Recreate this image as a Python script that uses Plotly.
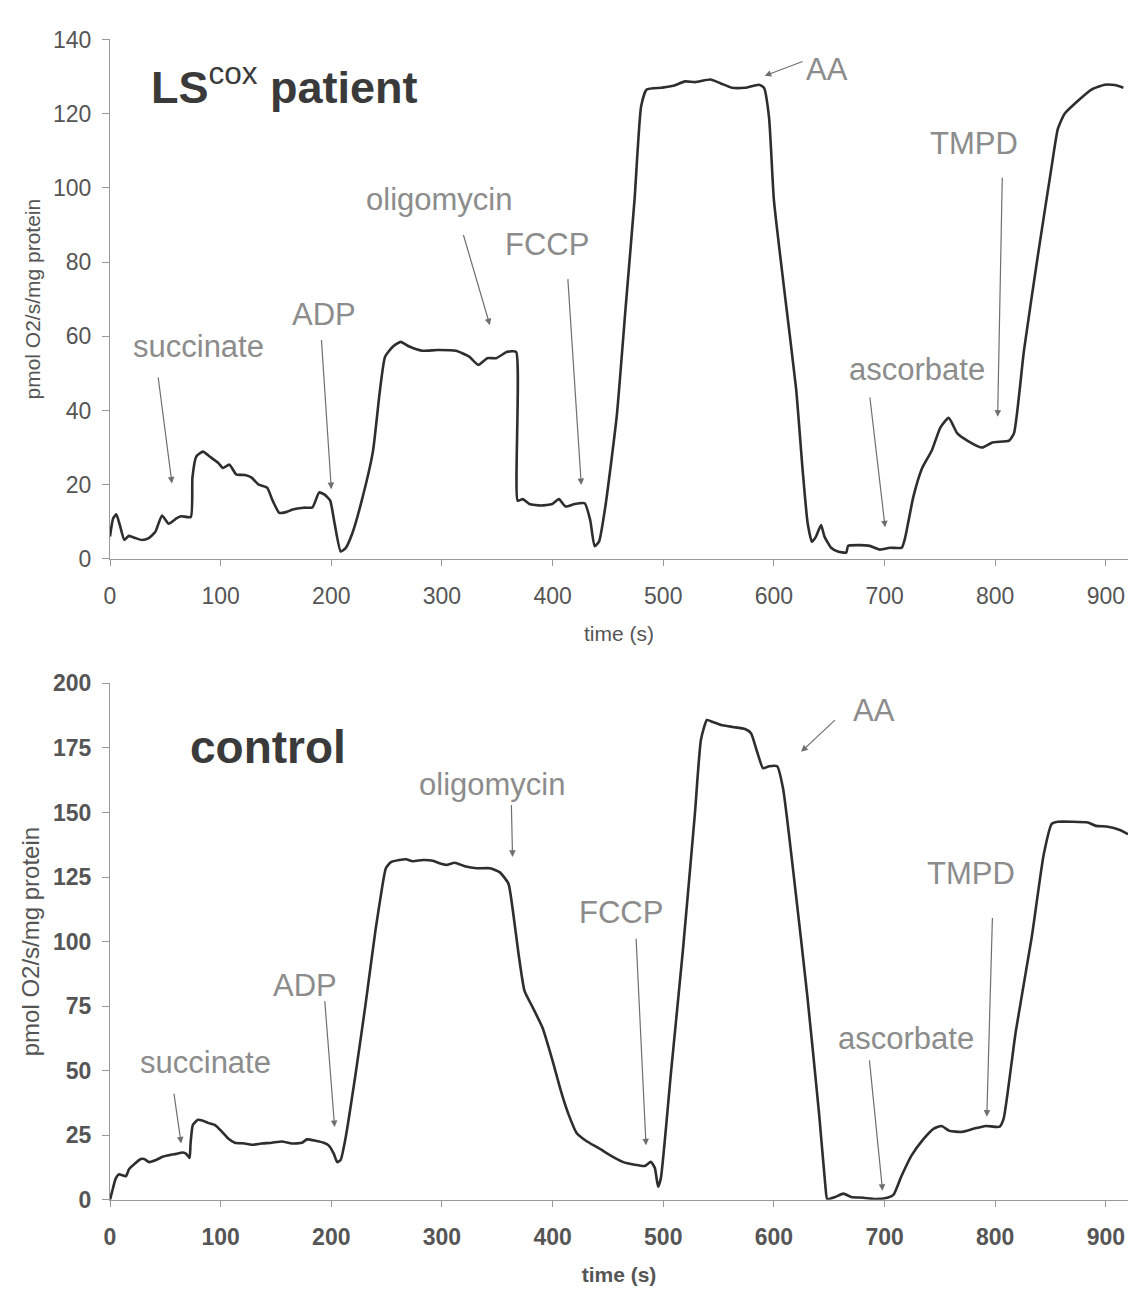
import plotly.graph_objects as go

# ---------------- data ----------------
ls_time = [0, 2.8, 5.7, 8.9, 13, 17, 23, 29, 35, 41, 47, 53, 60, 64, 73, 74.5, 78, 84, 90, 98,
           102, 108, 114, 122, 128, 134, 142, 147, 153, 159, 165, 175, 183, 189, 194, 199, 203,
           208.5, 213, 219, 227.5, 237.6, 243.7, 248.6, 256, 262.8, 270, 282, 296, 312.6, 324.7,
           332.8, 341, 349, 359, 367, 368.4, 373, 379, 389.5, 399.6, 405.7, 411.7, 420, 429, 434,
           438, 442, 448, 458, 466, 474, 480, 485, 498.5, 509, 519.7, 528.8, 542.5, 551.6, 562,
           574, 586.5, 591, 595.6, 600, 609, 620, 626, 630.5, 634.4, 638, 642.6, 645.7, 651.7,
           657.8, 665.4, 667, 677.5, 686.6, 695.7, 704.9, 715.5, 718.5, 726, 733.7, 742.8, 750.4,
           758, 765.6, 774.7, 788.3, 797.4, 812.6, 817, 826, 838.4, 850.5, 856.6, 862.7, 874.8,
           887, 899, 908, 915.8]
ls_rate = [6, 10.9, 12, 9.1, 5.1, 6.2, 5.6, 5.1, 5.6, 7.3, 11.7, 9.5, 10.9, 11.5, 11.3, 21.9, 27.6,
           28.9, 27.6, 25.8, 24.5, 25.4, 22.8, 22.6, 21.9, 20.1, 19.2, 15.7, 12.4, 12.6, 13.3, 13.8,
           13.9, 17.9, 17.3, 15.7, 9.5, 2, 2.9, 6.9, 15.7, 28.9, 44.8, 54.5, 57.3, 58.5, 57.3, 56.1,
           56.3, 56.1, 54.5, 52.3, 54.1, 54.1, 55.8, 55.8, 15.7, 16.1, 14.8, 14.4, 14.8, 16.1, 14.1,
           14.8, 15, 10.4, 3.4, 4.7, 14.8, 38.6, 67.8, 96.6, 122, 126.5, 127, 127.5, 128.7, 128.5,
           129.2, 128.2, 127, 127, 127.8, 127, 119, 96.7, 73.4, 46, 23.8, 9.6, 4.6, 6, 9.1, 6, 3,
           2, 1.7, 3.5, 3.7, 3.5, 2.5, 3, 3, 5.6, 16.7, 24.3, 29.3, 35.4, 38, 33.9, 31.9, 30, 31.4,
           31.9, 33.9, 56.2, 81.5, 104.8, 115.9, 120, 123.5, 126.5, 127.8, 127.7, 127]

ctrl_time = [0, 2.1, 5.2, 8.2, 11.2, 14.3, 17.3, 21.8, 27.9, 30.9, 35.5, 41.6, 47.6, 53.7, 59.8,
             65.8, 68.9, 71.9, 72.8, 74.9, 79.5, 84, 88.6, 94.6, 100.7, 106.8, 112.8, 121.9, 128,
             137, 146.2, 155.3, 164.4, 173.5, 178, 185.6, 193.2, 197.8, 202.3, 205.3, 208.4, 213,
             222, 231, 240, 246.3, 249.3, 253.9, 261.5, 267.5, 273.6, 282.7, 291.8, 297.8, 303.9,
             311.5, 320.6, 331.2, 343.3, 352.4, 360.1, 363.8, 369.2, 374.6, 381.9, 390.9, 400,
             407.2, 414.5, 421.7, 430.8, 441.7, 452.5, 463.4, 474.3, 483.3, 488.8, 492.4, 495.3,
             497.8, 506.9, 517.8, 528.6, 534.1, 539.5, 544.9, 552.2, 563, 573.9, 579.3, 584.8,
             590.2, 595.6, 602.9, 608.3, 619.2, 630.1, 640.9, 646.4, 648.2, 655.4, 662.7, 669.9,
             680.8, 691.7, 702.5, 708, 715.2, 724.3, 735.1, 744.2, 751.4, 758.7, 769.6, 780.4,
             791.3, 804, 807.6, 818.5, 833, 843.8, 851.1, 856.5, 869.2, 883.7, 891, 901.8, 912.7,
             920]
ctrl_rate = [0, 3.5, 8.3, 9.9, 9.5, 9.1, 11.9, 13.8, 15.8, 15.8, 14.6, 15.4, 16.7, 17.3, 17.8,
             18.3, 17.8, 16.2, 21.8, 29, 31, 30.6, 29.8, 29, 26.6, 23.7, 22.1, 21.8, 21.3, 21.8,
             22.1, 22.6, 21.8, 22.1, 23.4, 22.9, 22.1, 21, 17.8, 14.6, 15.4, 24.2, 48.9, 75.9,
             104.6, 122, 128.4, 130.8, 131.6, 131.9, 131.1, 131.6, 131.3, 130.3, 129.7, 130.5,
             129.2, 128.4, 128.4, 126.8, 122.4, 112.9, 95.3, 80.9, 74.6, 66.6, 53.8, 42.6, 33,
             25.9, 22.7, 20, 17.1, 14.7, 13.6, 13.1, 14.7, 12.3, 5.1, 8.3, 49, 96.9, 149.6, 178.3,
             185.8, 185, 183.9, 183.1, 182.3, 180.7, 173.5, 167.1, 167.9, 167.9, 159.2, 120.8,
             79.3, 33, 5.9, 0.3, 1.1, 2.4, 1.1, 0.8, 0.3, 0.8, 1.9, 9.1, 17.1, 23.5, 27.5, 28.6,
             26.7, 26.3, 27.5, 28.6, 28.3, 31.4, 65, 101.7, 133.6, 145.6, 146.4, 146.4, 146.1,
             144.8, 144.5, 143.2, 141.6]

events = ["succinate", "ADP", "oligomycin", "FCCP", "AA", "ascorbate", "TMPD"]

# label centres (time, rate) and arrows (tail -> tip) for each panel
ls_label_t = [80, 193, 297, 395, 648, 729, 781]
ls_label_r = [57.3, 66, 97, 84.8, 131.8, 51, 112]
ls_tail_t = [43.4, 191, 319, 413.7, 627.2, 686.6, 806.4]
ls_tail_r = [49.3, 59.4, 87.7, 75.8, 134.2, 43.9, 103.1]
ls_tip_t = [56, 200, 343.3, 425.9, 591.6, 700.5, 802.2]
ls_tip_r = [20.3, 18.8, 63, 19.9, 130.2, 8.5, 38.3]

ctrl_label_t = [86, 176, 345, 461.6, 690, 719, 778]
ctrl_label_r = [53.3, 83, 161, 111.3, 189.5, 62.6, 126.4]
ctrl_tail_t = [57.6, 194, 362.7, 475.4, 656.5, 686.2, 797.5]
ctrl_tail_r = [41.7, 77.5, 153.5, 101.7, 186.3, 54.6, 109.7]
ctrl_tip_t = [64.3, 203, 363.8, 484.4, 624.6, 698.2, 792.4]
ctrl_tip_r = [21.8, 28.2, 132.8, 21.1, 173.5, 3.5, 32.2]

x_ticks = [0, 100, 200, 300, 400, 500, 600, 700, 800, 900]
ls_y_ticks = [0, 20, 40, 60, 80, 100, 120, 140]
ctrl_y_ticks = [0, 25, 50, 75, 100, 125, 150, 175, 200]

# ---------------- figure ----------------
FONT = "Liberation Sans, Arial, sans-serif"
LINE = "#2e2e2e"
AXIS = "#9a9a9a"
TXT = "#555555"
ANN = "#8c8c8c"

fig = go.Figure()
fig.add_trace(go.Scatter(x=ls_time, y=ls_rate, mode="lines",
                         line=dict(color=LINE, width=2.6, shape="spline", smoothing=0.5),
                         xaxis="x", yaxis="y", showlegend=False, hoverinfo="skip"))
fig.add_trace(go.Scatter(x=ctrl_time, y=ctrl_rate, mode="lines",
                         line=dict(color=LINE, width=2.6, shape="spline", smoothing=0.5),
                         xaxis="x2", yaxis="y2", showlegend=False, hoverinfo="skip"))

def xaxis_style(anchor, bold, tsize):
    return dict(
        range=[0, 920], domain=[0, 1], anchor=anchor,
        tickvals=x_ticks, showgrid=False, zeroline=False,
        showline=True, linecolor=AXIS, linewidth=1.2,
        ticks="outside", ticklen=6, tickcolor=AXIS, tickwidth=1,
        ticklabelstandoff=10,
        tickfont=dict(family=FONT, size=23, color=TXT, weight="bold" if bold else "normal"),
        title=dict(text="time (s)", standoff=18,
                   font=dict(family=FONT, size=tsize, color=TXT, weight="bold" if bold else "normal")),
    )

def yaxis_style(anchor, rng, ticks, dom, bold, tsize):
    return dict(
        range=rng, domain=dom, anchor=anchor, tickvals=ticks,
        showgrid=False, zeroline=False,
        showline=True, linecolor=AXIS, linewidth=1.2,
        ticks="outside", ticklen=7, tickcolor=AXIS, tickwidth=1,
        ticklabelstandoff=6,
        tickfont=dict(family=FONT, size=23, color=TXT, weight="bold" if bold else "normal"),
        title=dict(text="pmol O2/s/mg protein", standoff=6,
                   font=dict(family=FONT, size=tsize, color=TXT)),
    )

H = 1302.0
fig.update_layout(
    width=1129, height=1302,
    margin=dict(l=110, r=1, t=0, b=0),
    paper_bgcolor="white", plot_bgcolor="white",
    xaxis=xaxis_style("y", False, 21),
    yaxis=yaxis_style("x", [0, 140], ls_y_ticks, [(H - 557) / H, (H - 27) / H], False, 21),
    xaxis2=xaxis_style("y2", True, 21),
    yaxis2=yaxis_style("x2", [0, 200], ctrl_y_ticks, [(H - 1211) / H, (H - 684) / H], True, 24),
)

annotations = []
panels = [
    ("x", "y", ls_label_t, ls_label_r, ls_tail_t, ls_tail_r, ls_tip_t, ls_tip_r),
    ("x2", "y2", ctrl_label_t, ctrl_label_r, ctrl_tail_t, ctrl_tail_r, ctrl_tip_t, ctrl_tip_r),
]
for xr, yr, lt, lr, tt, tr, pt, pr in panels:
    for i, name in enumerate(events):
        annotations.append(dict(
            x=lt[i], y=lr[i], xref=xr, yref=yr, text=name, showarrow=False,
            xanchor="center", yanchor="middle",
            font=dict(family=FONT, size=31, color=ANN)))
        annotations.append(dict(
            x=pt[i], y=pr[i], xref=xr, yref=yr, ax=tt[i], ay=tr[i],
            axref=xr, ayref=yr, text="", showarrow=True,
            arrowhead=2, arrowsize=1.1, arrowwidth=1.2, arrowcolor="#6f6f6f",
            standoff=0, startstandoff=0))

annotations.append(dict(
    x=158, y=128, xref="x", yref="y", showarrow=False,
    text="LS<sup><span style='font-weight:normal'>cox</span></sup> patient",
    xanchor="center", yanchor="middle",
    font=dict(family=FONT, size=45, color="#3a3a3a", weight="bold")))
annotations.append(dict(
    x=143, y=175.4, xref="x2", yref="y2", showarrow=False,
    text="control", xanchor="center", yanchor="middle",
    font=dict(family=FONT, size=46, color="#3a3a3a", weight="bold")))

fig.update_layout(annotations=annotations)

fig.write_html("out.html")
